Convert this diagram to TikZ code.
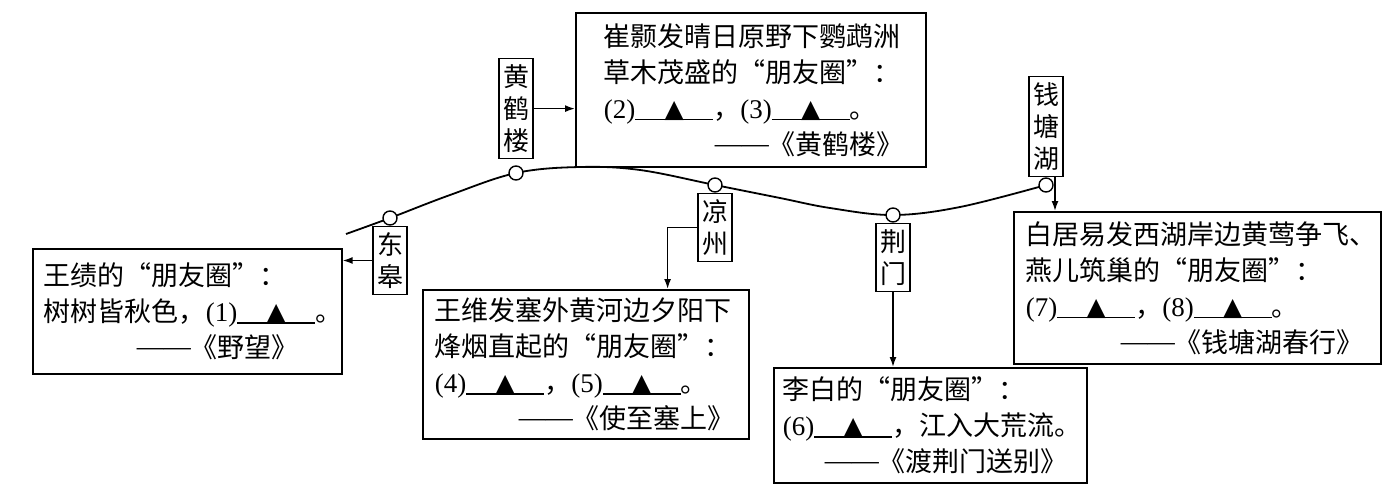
\documentclass[tikz,border=0pt]{standalone}
\usepackage{fontspec}
\setmainfont{Liberation Serif}
\newfontfamily\cjk{Noto Sans CJK SC}
\newfontfamily\symfont{DejaVu Sans}
\usetikzlibrary{positioning,arrows.meta}
\newcommand{\answerline}[1]{{\rmfamily(#1)}\makebox[78pt]{\raisebox{1pt}{\symfont\fontsize{25}{25}\selectfont ▲}}\kern-78pt\rule[-2pt]{78pt}{1.3pt}}
\newcommand{\byline}{{\rmfamily\raisebox{2pt}{——}}}
\begin{document}
\begin{tikzpicture}[x=1pt,y=-1pt,
  txtbox/.style={draw,line width=1.6pt,anchor=north west,align=left,
    font=\cjk\fontsize{27}{36}\selectfont,inner ysep=0pt},
  tag/.style={draw,line width=1.5pt,align=center,inner xsep=4pt,inner ysep=6pt,
    font=\cjk\fontsize{26}{32}\selectfont},
  dot/.style={circle,draw,fill=white,line width=1.4pt,inner sep=0pt,minimum size=14pt},
  arr/.style={-{Latex[length=10pt,width=7pt]},line width=1.6pt},
  route/.style={line width=1.8pt}]
\useasboundingbox (0,0) rectangle (1396,490);
% the road
\draw[route] plot[smooth,tension=.6] coordinates {(346,234) (390,218) (450,195) (516,173) (580,167) (640,170) (715,185) (780,198) (830,208) (893,215) (960,207) (1046,185)};
\node[dot] (dgdot) at (390,218) {};
\node[dot] (hhldot) at (516,173) {};
\node[dot] (lzdot) at (715,185) {};
\node[dot] (jmdot) at (893,215) {};
\node[dot] (qthdot) at (1046,185) {};
% places
\node[tag,below=0pt of dgdot] (dg) {东\\皋};
\node[tag,above=6pt of hhldot] (hhl) {黄\\鹤\\楼};
\node[tag,below=0pt of lzdot] (lz) {凉\\州};
\node[tag,below=0pt of jmdot] (jm) {荆\\门};
\node[tag,above=0pt of qthdot] (qth) {钱\\塘\\湖};
% poems
\node[txtbox,text width=287pt,inner xsep=11pt,minimum height=125pt] (wj) at (32,248)
  {\mbox{王绩的“朋友圈”：}\\\mbox{树树皆秋色，\answerline{1}。}\\\mbox{\hspace*{93pt}\byline《野望》}};
\node[txtbox,text width=294pt,inner xsep=28pt,minimum height=154pt] (ch) at (575,12)
  {\mbox{崔颢发晴日原野下鹦鹉洲}\\\mbox{草木茂盛的“朋友圈”：}\\\mbox{\answerline{2}，\answerline{3}。}\\\mbox{\hspace*{111pt}\byline《黄鹤楼》}};
\node[txtbox,text width=302pt,inner xsep=12pt,minimum height=149pt] (ww) at (422,289)
  {\mbox{王维发塞外黄河边夕阳下}\\\mbox{烽烟直起的“朋友圈”：}\\\mbox{\answerline{4}，\answerline{5}。}\\\mbox{\hspace*{84pt}\byline《使至塞上》}};
\node[txtbox,text width=295pt,inner xsep=9pt,minimum height=115pt] (lb) at (773,367)
  {\mbox{李白的“朋友圈”：}\\\mbox{\answerline{6}，江入大荒流。}\\\mbox{\hspace*{42pt}\byline《渡荆门送别》}};
\node[txtbox,text width=343pt,inner xsep=12pt,minimum height=152pt] (bjy) at (1013,211)
  {\mbox{白居易发西湖岸边黄莺争飞、}\\\mbox{燕儿筑巢的“朋友圈”：}\\\mbox{\answerline{7}，\answerline{8}。}\\\mbox{\hspace*{95pt}\byline《钱塘湖春行》}};
% links
\draw[arr] (dg.west) -- (dg.west -| wj.east);
\draw[arr] (hhl.east) -- (hhl.east -| ch.west);
\draw[arr] (lz.west) -| ([xshift=-82pt]ww.north east);
\draw[arr] (jm.south) -- (jm.south |- lb.north);
\draw[arr] ([xshift=9pt]qth.south) -- ([xshift=9pt]qth.south |- bjy.north);
\end{tikzpicture}
\end{document}
